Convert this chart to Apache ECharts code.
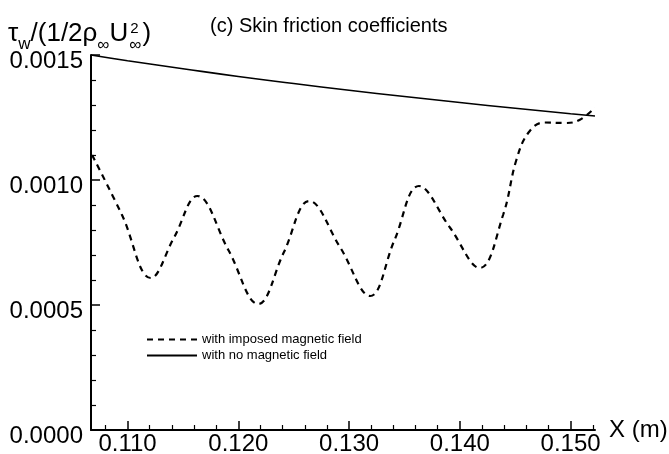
<!DOCTYPE html>
<html><head><meta charset="utf-8">
<script src="https://cdn.jsdelivr.net/npm/echarts@6/dist/echarts.min.js"></script>
<style>html,body{margin:0;padding:0;background:#fff}#c{width:669px;height:454px}</style>
</head><body><div id="c"></div>
<script>
// ---- data ----
const xMajorTicks = [0.110, 0.120, 0.130, 0.140, 0.150];
const xMinorTicks = [0.108, 0.112, 0.114, 0.116, 0.118, 0.122, 0.124, 0.126, 0.128, 0.132, 0.134, 0.136, 0.138, 0.142, 0.144, 0.146, 0.148, 0.152];
const yTicks = [0.0000, 0.0005, 0.0010, 0.0015];

const dashedName = 'with imposed magnetic field';
const dashedX = [0.1068, 0.1095, 0.1121, 0.1142, 0.1163, 0.1191, 0.1218, 0.1241, 0.1264, 0.1292, 0.1319, 0.1341, 0.1363, 0.1391, 0.1418, 0.1439, 0.1451, 0.1462, 0.1476, 0.1495, 0.1508, 0.1522];
const dashedY = [0.00110, 0.00086, 0.000608, 0.00077, 0.000936, 0.00072, 0.000504, 0.00071, 0.000916, 0.00073, 0.000536, 0.00076, 0.000976, 0.00081, 0.000648, 0.00086, 0.00108, 0.00119, 0.00123, 0.001228, 0.00124, 0.00129];

const solidName = 'with no magnetic field';
const solidX = [0.1067, 0.110, 0.115, 0.120, 0.125, 0.130, 0.135, 0.140, 0.145, 0.150, 0.1522];
const solidY = [0.00150, 0.001477, 0.001445, 0.001414, 0.001386, 0.001359, 0.001334, 0.001310, 0.001287, 0.001265, 0.001256];

const titleText = '(c) Skin friction coefficients';
const xName = 'X (m)';

// ---- chart ----
const FONT = '"Liberation Sans", Arial, Helvetica, sans-serif';
const chart = echarts.init(document.getElementById('c'), null, {renderer: 'canvas'});

// y-axis name pieces: [text, size, dy]
const yNameParts = [
  ['τ', 26, 0], ['w', 17, 6], ['/(1/2ρ', 26, 0], ['∞', 17, 7], ['U', 26, 0]
];
const ctx = document.createElement('canvas').getContext('2d');
function tw(t, s) { ctx.font = s + 'px ' + FONT; return ctx.measureText(t).width; }
const gEls = [];
let cx = 8; const base = 47;
yNameParts.forEach(p => {
  gEls.push({type: 'text', x: cx, y: base + p[2], style: {text: p[0], font: p[1] + 'px ' + FONT, fill: '#000', textVerticalAlign: 'bottom'}});
  cx += tw(p[0], p[1]);
});
cx += 1;
gEls.push({type: 'text', x: cx + 1, y: base - 11, style: {text: '2', font: '15px ' + FONT, fill: '#000', textVerticalAlign: 'bottom'}});
gEls.push({type: 'text', x: cx, y: base + 7, style: {text: '∞', font: '17px ' + FONT, fill: '#000', textVerticalAlign: 'bottom'}});
cx += Math.max(tw('2', 15), tw('∞', 17)) + 1;
gEls.push({type: 'text', x: cx, y: base, style: {text: ')', font: '26px ' + FONT, fill: '#000', textVerticalAlign: 'bottom'}});

const option = {
  animation: false,
  backgroundColor: '#fff',
  title: {text: titleText, left: 205, top: 11, textStyle: {fontFamily: FONT, fontSize: 20, fontWeight: 'normal', color: '#000'}},
  graphic: gEls,
  legend: {
    orient: 'vertical', left: 141, top: 328, itemWidth: 50, itemHeight: 10, itemGap: 3,
    itemStyle: {opacity: 0},
    textStyle: {fontFamily: FONT, fontSize: 13, color: '#000'},
    data: [dashedName, solidName]
  },
  grid: {left: 91, right: 74, top: 55, bottom: 24, outerBoundsMode: 'none'},
  xAxis: [{
    type: 'value', min: 0.1067, max: 0.1522,
    axisLine: {lineStyle: {color: '#000', width: 2}},
    axisTick: {inside: true, length: 9, customValues: xMajorTicks, lineStyle: {color: '#000', width: 1.5}},
    axisLabel: {customValues: xMajorTicks, formatter: v => v.toFixed(3), fontFamily: FONT, fontSize: 24, color: '#000', margin: 2},
    splitLine: {show: false},
    name: xName, nameLocation: 'end', nameGap: 14,
    nameTextStyle: {fontFamily: FONT, fontSize: 24, color: '#000', padding: [8, 0, 0, 0]}
  }, {
    type: 'value', min: 0.1067, max: 0.1522, position: 'bottom',
    axisLine: {show: false},
    axisTick: {inside: true, length: 5, customValues: xMinorTicks, lineStyle: {color: '#000', width: 1.2}},
    axisLabel: {show: false},
    splitLine: {show: false}
  }],
  yAxis: {
    type: 'value', min: 0, max: 0.0015, interval: 0.0005,
    axisLine: {show: true, lineStyle: {color: '#000', width: 2}},
    axisTick: {show: true, inside: true, length: 9, lineStyle: {color: '#000', width: 1.5}},
    minorTick: {show: true, splitNumber: 5, length: 5, lineStyle: {color: '#000', width: 1.2}},
    axisLabel: {
      formatter: v => '{a|' + v.toFixed(4) + '}', margin: 8,
      rich: {a: {fontFamily: FONT, fontSize: 24, color: '#000', padding: [12, 0, 0, 0]}}
    },
    splitLine: {show: false}
  },
  series: [{
    name: dashedName, type: 'line', xAxisIndex: 0, smooth: 0.4, symbol: 'none',
    data: dashedX.map((x, i) => [x, dashedY[i]]),
    lineStyle: {color: '#000', width: 2.2, type: [6, 5]}, itemStyle: {color: '#000'}
  }, {
    name: solidName, type: 'line', xAxisIndex: 0, smooth: true, symbol: 'none',
    data: solidX.map((x, i) => [x, solidY[i]]),
    lineStyle: {color: '#000', width: 1.6}, itemStyle: {color: '#000'}
  }]
};
chart.setOption(option);
</script>
</body></html>
